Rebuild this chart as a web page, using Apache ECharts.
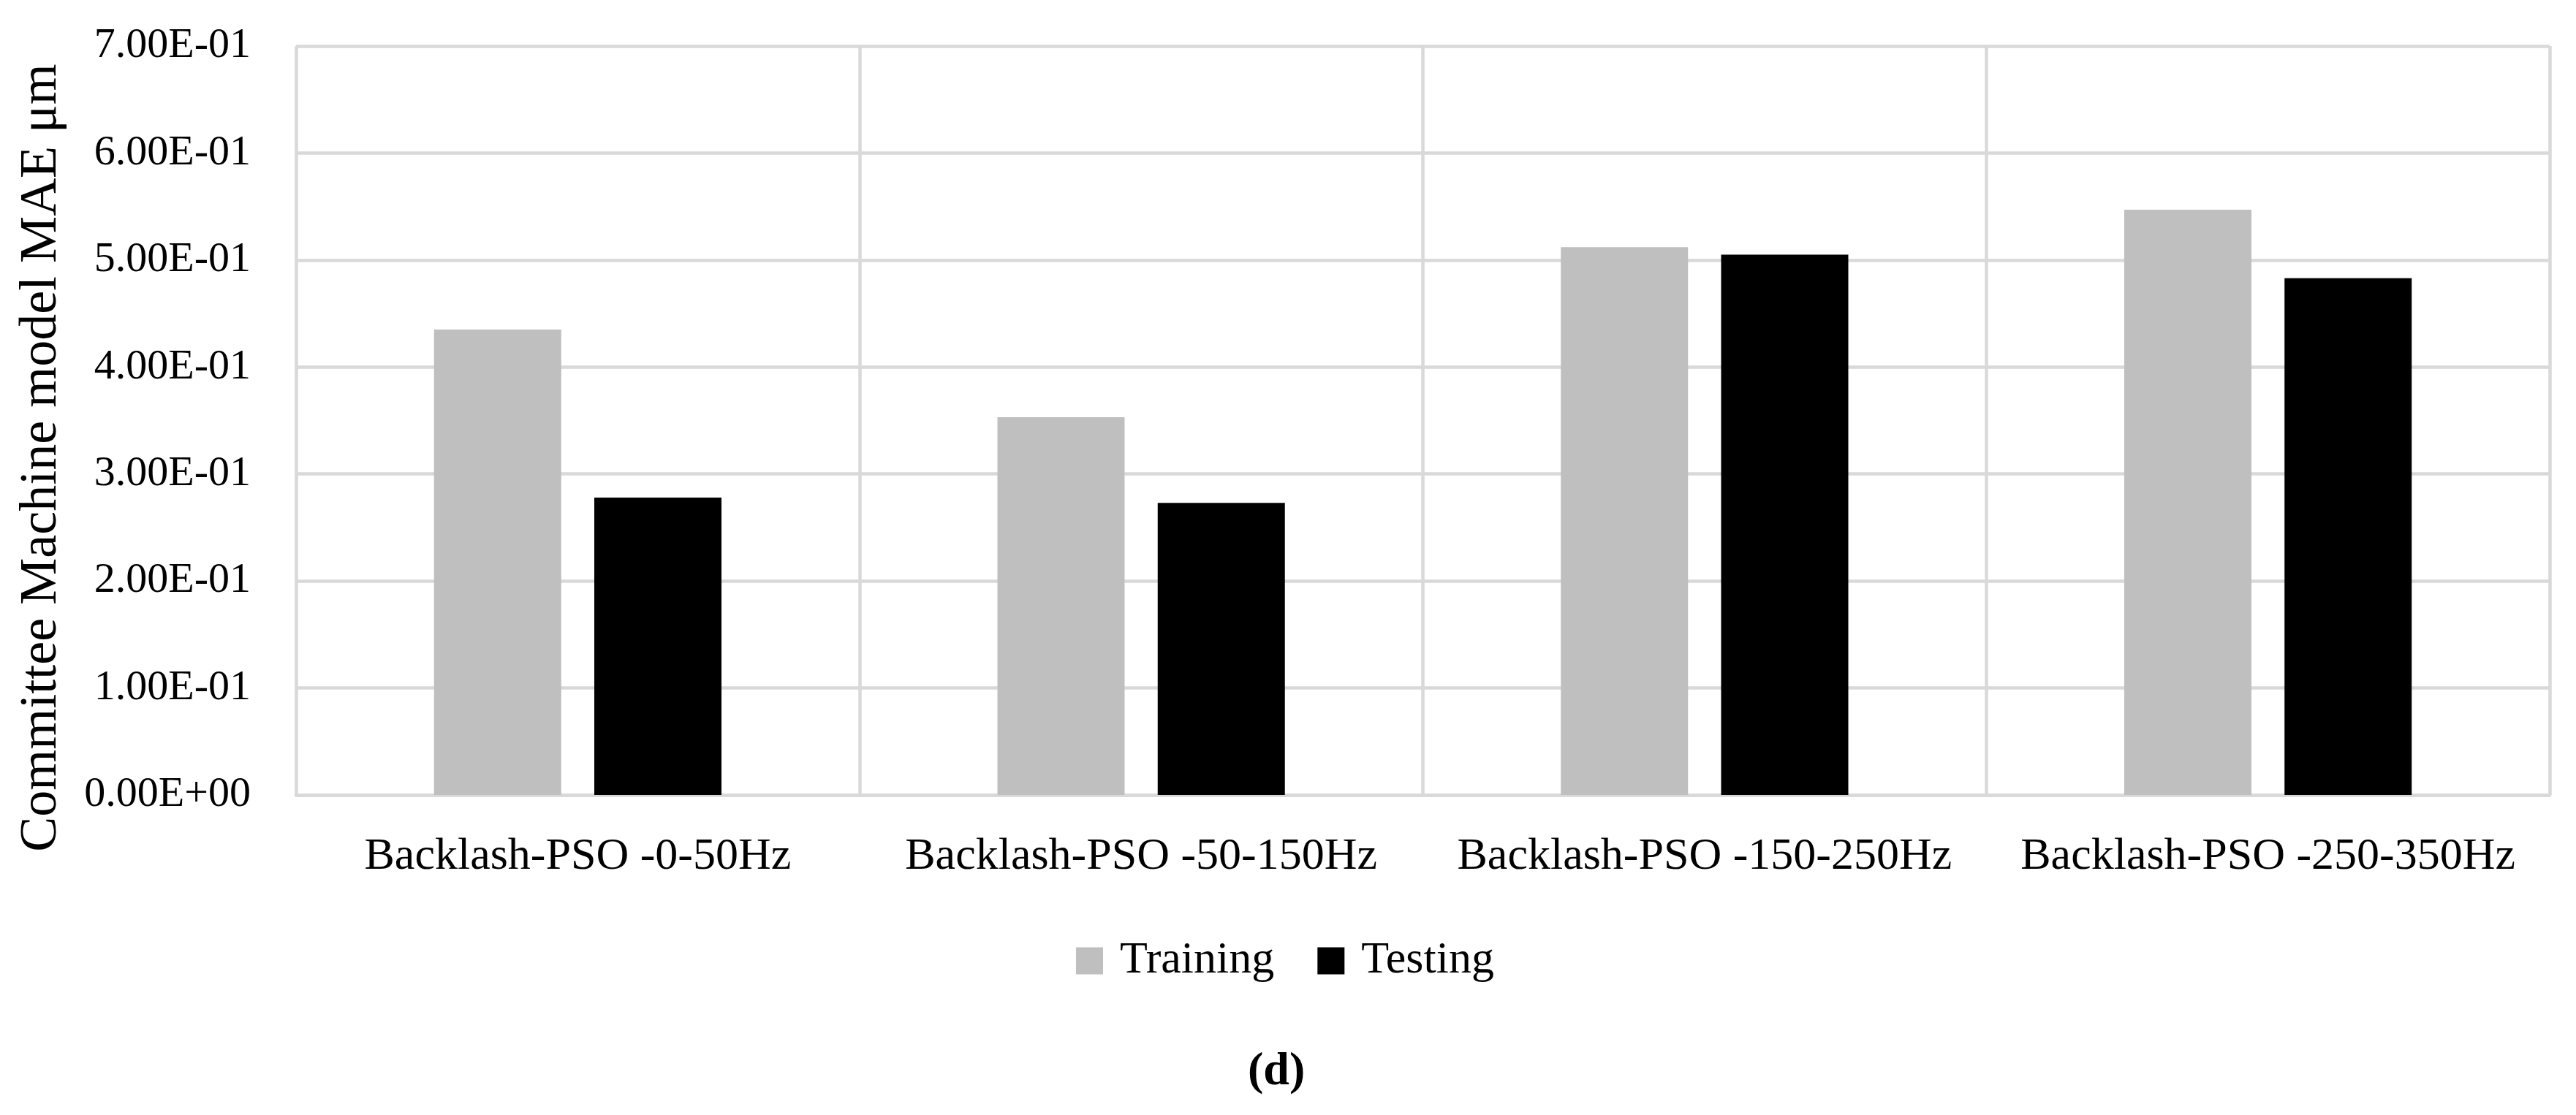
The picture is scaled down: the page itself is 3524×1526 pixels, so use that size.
<!DOCTYPE html>
<html>
<head>
<meta charset="utf-8">
<script src="https://cdn.jsdelivr.net/npm/echarts@6/dist/echarts.min.js"></script>
<style>
html,body{margin:0;padding:0;background:#fff;}
#chart{width:3524px;height:1526px;}
</style>
</head>
<body>
<div id="chart"></div>
<script>
const categories = ['Backlash-PSO -0-50Hz', 'Backlash-PSO -50-150Hz', 'Backlash-PSO -150-250Hz', 'Backlash-PSO -250-350Hz'];
const trainingValues = [0.435, 0.353, 0.512, 0.547];
const testingValues = [0.278, 0.273, 0.505, 0.483];
const seriesNames = ['Training', 'Testing'];
const yAxisTitle = 'Committee Machine model MAE μm';
const panelLabel = 'd';

function sci(v) {
  if (Math.abs(v) < 1e-12) return '0.00E+00';
  const s = v.toExponential(2).toUpperCase();
  const parts = s.split('E');
  let exp = parseInt(parts[1], 10);
  const sign = exp < 0 ? '-' : '+';
  exp = Math.abs(exp);
  return parts[0] + 'E' + sign + (exp < 10 ? '0' + exp : '' + exp);
}

const FONT = 'Liberation Serif';
const GRID = '#d9d9d9';
const chart = echarts.init(document.getElementById('chart'), null, {renderer: 'canvas'});
chart.setOption({
  backgroundColor: '#ffffff',
  animation: false,
  title: {
    text: '{p|(}{b|' + panelLabel + '}{p|)}',
    left: 1702,
    top: 1430,
    textStyle: {
      rich: {
        p: {fontFamily: FONT, fontSize: 64, color: '#000'},
        b: {fontFamily: FONT, fontSize: 64, fontWeight: 'bold', color: '#000'}
      }
    }
  },
  legend: {
    data: seriesNames,
    left: 1467,
    top: 1279,
    itemWidth: 37,
    itemHeight: 37,
    itemGap: 59,
    icon: 'rect',
    textStyle: {fontFamily: FONT, fontSize: 62, color: '#000', padding: [0, 0, 0, 18]}
  },
  grid: {left: 405, right: 36, top: 63, bottom: 438, containLabel: false},
  xAxis: {
    type: 'category',
    data: categories,
    boundaryGap: true,
    axisLine: {show: true, lineStyle: {color: GRID, width: 4.5}},
    axisTick: {show: false},
    axisLabel: {fontFamily: FONT, fontSize: 62, color: '#000', margin: 54, interval: 0},
    splitLine: {show: true, interval: 0, lineStyle: {color: GRID, width: 4.5}}
  },
  yAxis: {
    type: 'value',
    min: 0,
    max: 0.7,
    interval: 0.1,
    name: yAxisTitle,
    nameLocation: 'middle',
    nameRotate: 90,
    nameGap: 312,
    nameTextStyle: {fontFamily: FONT, fontSize: 72, color: '#000', padding: [0, 102, 0, 0]},
    axisLine: {show: false},
    axisTick: {show: false},
    axisLabel: {fontFamily: FONT, fontSize: 58, color: '#000', margin: 62, formatter: sci},
    splitLine: {show: true, lineStyle: {color: GRID, width: 4.5}}
  },
  series: [
    {name: seriesNames[0], type: 'bar', data: trainingValues, barWidth: 174, barGap: '26%',
     itemStyle: {color: '#bfbfbf'}},
    {name: seriesNames[1], type: 'bar', data: testingValues, barWidth: 174, barGap: '26%',
     itemStyle: {color: '#000000'}}
  ]
});
</script>
</body>
</html>
